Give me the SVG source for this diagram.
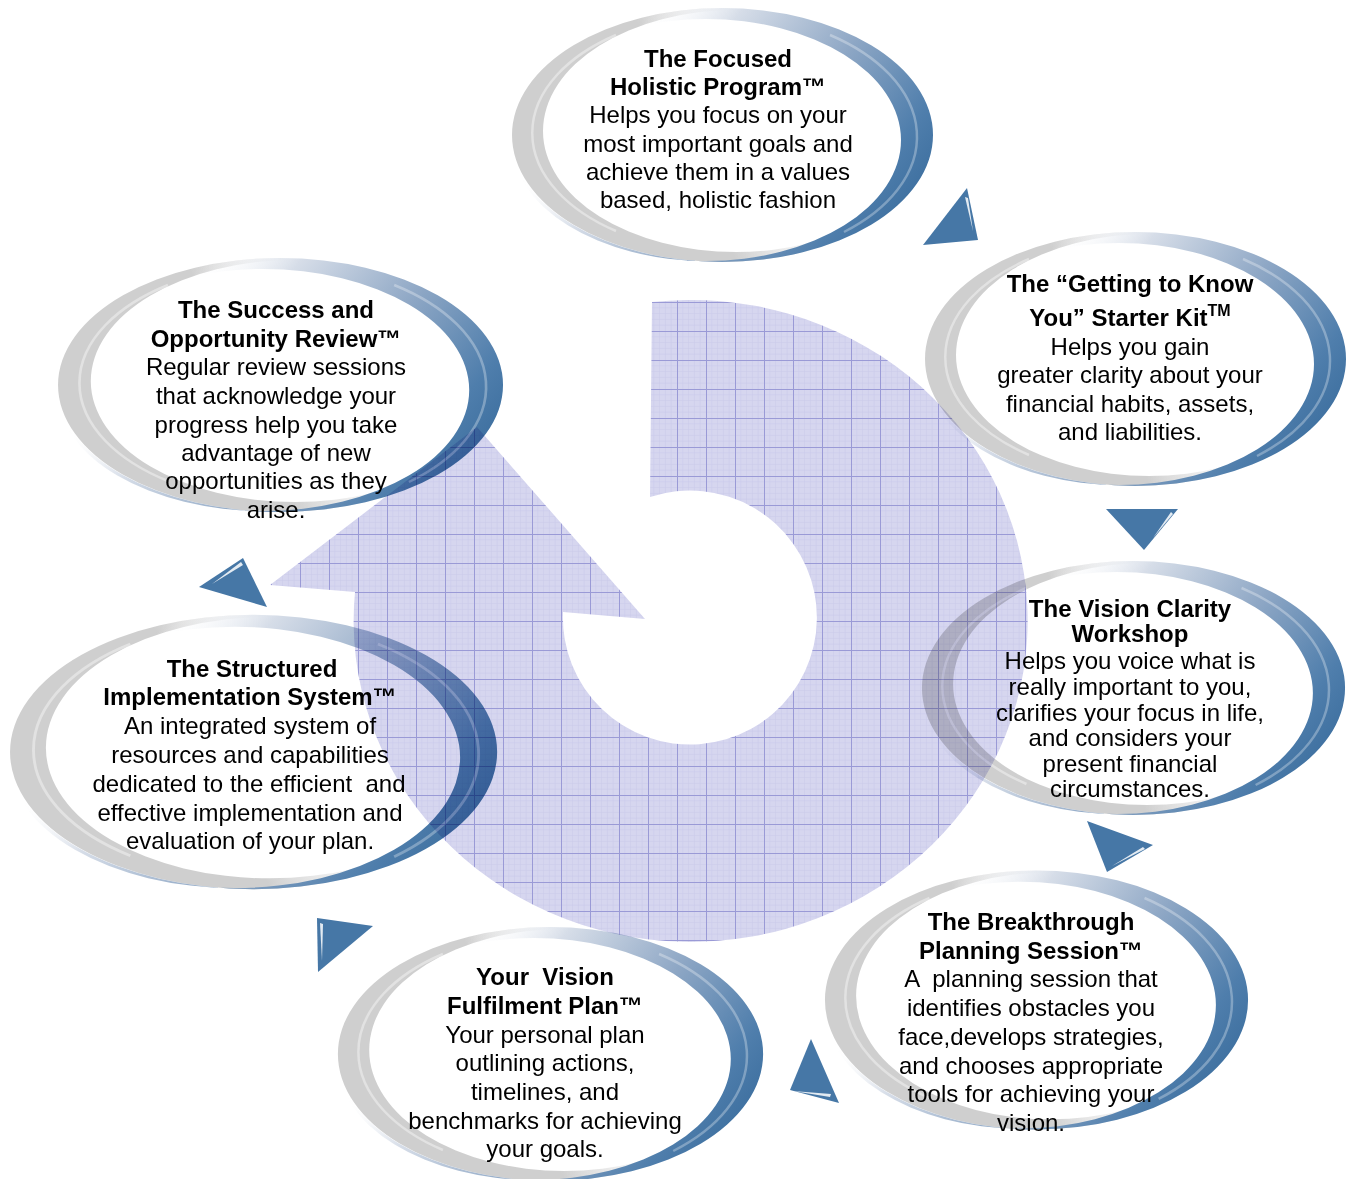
<svg xmlns="http://www.w3.org/2000/svg" width="1348" height="1179" viewBox="0 0 1348 1179">
<style>
text{font-family:"Liberation Sans",Arial,sans-serif;font-size:24px;fill:#000;text-anchor:middle;white-space:pre}
.t{font-weight:bold}
.sw{mix-blend-mode:multiply}
.tri{fill:#4677a6}
.hl{fill:#ffffff;opacity:0.85}
</style>
<defs>
<pattern id="grid" patternUnits="userSpaceOnUse" x="10" y="12" width="29" height="29">
<rect width="29" height="29" fill="#d6d6ef"/>
<path d="M5.8,0V29M11.6,0V29M17.4,0V29M23.2,0V29M0,5.8H29M0,11.6H29M0,17.4H29M0,23.2H29" stroke="#c8c8e9" stroke-width="0.5" fill="none"/>
<path d="M0.5,0V29M0,0.5H29" stroke="#9a9ad6" stroke-width="1" fill="none"/>
</pattern>
<linearGradient id="gGray" gradientUnits="userSpaceOnUse" x1="-30" y1="19" x2="62" y2="-19">
<stop offset="0" stop-color="#cfcfcf" stop-opacity="1"/>
<stop offset="1" stop-color="#e2e2e2" stop-opacity="0"/>
</linearGradient>
<linearGradient id="gBlue" gradientUnits="userSpaceOnUse" x1="-60" y1="-140" x2="200" y2="60">
<stop offset="0" stop-color="#ffffff" stop-opacity="0"/>
<stop offset="0.22" stop-color="#d6dde8"/>
<stop offset="0.55" stop-color="#8ea7c5"/>
<stop offset="0.85" stop-color="#4f7eac"/>
<stop offset="1" stop-color="#3d6f9f"/>
</linearGradient>
<g id="sw">
<path fill="url(#gGray)" fill-rule="evenodd" d="M-210,0A210,127 0 1,0 210,0A210,127 0 1,0 -210,0ZM-179,-4A193,121 0 1,0 207,-4A193,121 0 1,0 -179,-4Z"/>
<path d="M-106,-100A198,120 0 0,0 -106,96" fill="none" stroke="#eeeeee" stroke-width="2.5" opacity="0.6"/>
<path fill="url(#gBlue)" fill-rule="evenodd" d="M-211,0A211,127 0 1,0 211,0A211,127 0 1,0 -211,0ZM-211,5A195,121 0 1,0 179,5A195,121 0 1,0 -211,5Z"/>
<path d="M108,-100A203,124 0 0,1 122,97" fill="none" stroke="#ffffff" stroke-width="2.5" opacity="0.3"/>
</g>
</defs>

<g id="cycle-arrow">
<path fill="url(#grid)" d="M652,302A337,321 0 1,1 355,592L270,585L477,427L645,619L563,612A127,127 0 1,0 650,497Z"/>
</g>

<g id="node-focused-holistic">
<use class="sw" href="#sw" transform="translate(722,135)"/>
<text x="718" y="67" class="t">The Focused</text>
<text x="718" y="95" class="t">Holistic Program™</text>
<text x="718" y="123">Helps you focus on your</text>
<text x="718" y="152">most important goals and</text>
<text x="718" y="180">achieve them in a values</text>
<text x="718" y="208">based, holistic fashion</text>
</g>

<g id="node-starter-kit">
<use class="sw" href="#sw" transform="translate(1135,359)"/>
<text x="1130" y="292" class="t">The “Getting to Know</text>
<text x="1130" y="326" class="t">You” Starter Kit<tspan font-size="16" dy="-10">TM</tspan></text>
<text x="1130" y="355">Helps you gain</text>
<text x="1130" y="383">greater clarity about your</text>
<text x="1130" y="412">financial habits, assets,</text>
<text x="1130" y="440">and liabilities.</text>
</g>

<g id="node-vision-clarity">
<use class="sw" href="#sw" transform="translate(1133,688) scale(1.005,1)"/>
<text x="1130" y="617" class="t">The Vision Clarity</text>
<text x="1130" y="642" class="t">Workshop</text>
<text x="1130" y="669">Helps you voice what is</text>
<text x="1130" y="695">really important to you,</text>
<text x="1130" y="721">clarifies your focus in life,</text>
<text x="1130" y="746">and considers your</text>
<text x="1130" y="772">present financial</text>
<text x="1130" y="797">circumstances.</text>
</g>

<g id="node-breakthrough">
<use class="sw" href="#sw" transform="translate(1036,1000) scale(1.005,1.02)"/>
<text x="1031" y="930" class="t">The Breakthrough</text>
<text x="1031" y="959" class="t">Planning Session™</text>
<text x="1031" y="987">A  planning session that</text>
<text x="1031" y="1016">identifies obstacles you</text>
<text x="1031" y="1045">face,develops strategies,</text>
<text x="1031" y="1074">and chooses appropriate</text>
<text x="1031" y="1102">tools for achieving your</text>
<text x="1031" y="1131">vision.</text>
</g>

<g id="node-fulfilment-plan">
<use class="sw" href="#sw" transform="translate(550,1054) scale(1.01,1)"/>
<text x="545" y="985" class="t">Your  Vision</text>
<text x="545" y="1014" class="t">Fulfilment Plan™</text>
<text x="545" y="1043">Your personal plan</text>
<text x="545" y="1071">outlining actions,</text>
<text x="545" y="1100">timelines, and</text>
<text x="545" y="1129">benchmarks for achieving</text>
<text x="545" y="1157">your goals.</text>
</g>

<g id="node-implementation">
<use class="sw" href="#sw" transform="translate(253,752) scale(1.157,1.08)"/>
<text x="252" y="677" class="t">The Structured</text>
<text x="250" y="705" class="t">Implementation System™</text>
<text x="250" y="734">An integrated system of</text>
<text x="250" y="763">resources and capabilities</text>
<text x="249" y="792">dedicated to the efficient  and</text>
<text x="250" y="821">effective implementation and</text>
<text x="250" y="849">evaluation of your plan.</text>
</g>

<g id="node-success-review">
<use class="sw" href="#sw" transform="translate(280,385) scale(1.057,1)"/>
<text x="276" y="318" class="t">The Success and</text>
<text x="276" y="347" class="t">Opportunity Review™</text>
<text x="276" y="375">Regular review sessions</text>
<text x="276" y="404">that acknowledge your</text>
<text x="276" y="433">progress help you take</text>
<text x="276" y="461">advantage of new</text>
<text x="276" y="489">opportunities as they</text>
<text x="276" y="518">arise.</text>
</g>

<g id="connectors">
<polygon class="tri" points="967,188 978,240 923,245"/>
<polygon class="hl" points="965,197 968,198 973,231"/>
<polygon class="tri" points="1106,509 1178,509 1144,550"/>
<polygon class="hl" points="1171,512 1173,514 1153,538"/>
<polygon class="tri" points="1087,821 1153,845 1107,872"/>
<polygon class="hl" points="1143,847 1145,849 1112,866"/>
<polygon class="tri" points="811,1039 839,1103 790,1090"/>
<polygon class="hl" points="793,1091 831,1094 830,1097"/>
<polygon class="tri" points="317,918 373,926 318,972"/>
<polygon class="hl" points="320,923 323,924 322,961"/>
<polygon class="tri" points="243,558 199,587 267,607"/>
<polygon class="hl" points="241,562 243,565 212,584"/>
</g>
</svg>
